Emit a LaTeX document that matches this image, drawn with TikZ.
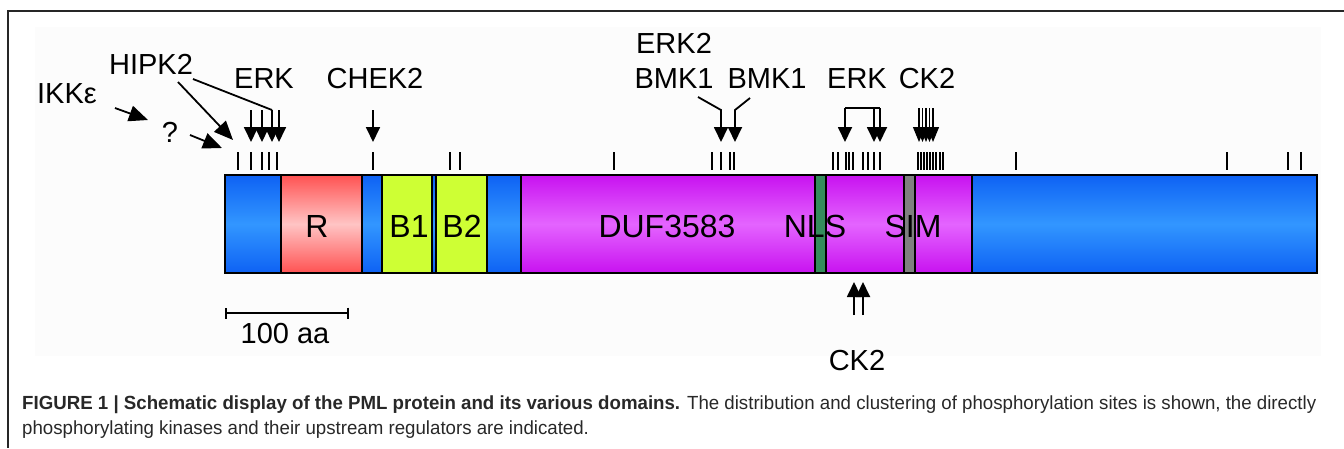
\documentclass[tikz,border=0pt]{standalone}
\usepackage{fontspec}
\setmainfont{Liberation Sans}
\usetikzlibrary{arrows.meta}
\definecolor{bluedark}{RGB}{14,98,244}
\definecolor{bluelight}{RGB}{50,150,255}
\definecolor{reddark}{RGB}{255,82,82}
\definecolor{redlight}{RGB}{255,196,196}
\definecolor{yellowseg}{RGB}{206,255,52}
\definecolor{magdark}{RGB}{200,18,240}
\definecolor{maglight}{RGB}{228,100,255}
\definecolor{greenseg}{RGB}{52,140,92}
\definecolor{grayseg}{RGB}{128,128,128}
\definecolor{capcol}{RGB}{40,40,40}
\definecolor{bgcol}{RGB}{252,252,252}
\tikzset{
  seg/.style={draw=none},
  blueseg/.style={seg, top color=bluedark, bottom color=bluedark, middle color=bluelight},
  redseg/.style={seg, top color=reddark, bottom color=reddark, middle color=redlight},
  yelseg/.style={seg, fill=yellowseg},
  magseg/.style={seg, top color=magdark, bottom color=magdark, middle color=maglight},
  grnseg/.style={seg, fill=greenseg},
  gryseg/.style={seg, fill=grayseg},
  kin/.style={line width=1.8pt, -{Triangle[width=14pt,length=15pt]}},
  kinbig/.style={line width=1.8pt, -{Triangle[width=16pt,length=19pt]}},
  kinthin/.style={line width=1.1pt, -{Triangle[width=12pt,length=15pt]}},
  plainline/.style={line width=1.8pt},
  site/.style={line width=1.8pt},
  sitethin/.style={line width=1.2pt},
  lbl/.style={font=\fontsize{29}{34}\selectfont, anchor=base, inner sep=0pt},
  dom/.style={font=\fontsize{32}{36}\selectfont, anchor=base, inner sep=0pt},
}
\newsavebox\capone
\newsavebox\captwo
\newlength\caponew
\begin{document}
\sbox\capone{\fontsize{19}{23}\selectfont\color{capcol}\textbf{FIGURE 1 | Schematic display of the PML protein and its various domains.} The distribution and clustering of phosphorylation sites is shown, the directly}
\sbox\captwo{\fontsize{19}{23}\selectfont\color{capcol}phosphorylating kinases and their upstream regulators are indicated.}
\setlength\caponew{\wd\capone}
\begin{tikzpicture}[x=1pt,y=-1pt]
\useasboundingbox (0,0) rectangle (1344,448);
\pgfmathsetmacro\capscale{1294/\caponew}
% frame and background
\fill[bgcol] (35,27) rectangle (1321,356);
\draw[line width=2pt, black!85] (1344,11) -- (8,11) -- (8,448);
% bar segments
\path[blueseg] (225,175) rectangle (281,273);
\path[redseg]  (281,175) rectangle (362,273);
\path[blueseg] (362,175) rectangle (382,273);
\path[yelseg]  (382,175) rectangle (432,273);
\path[blueseg] (432,175) rectangle (436,273);
\path[yelseg]  (436,175) rectangle (487,273);
\path[blueseg] (487,175) rectangle (521,273);
\path[magseg]  (521,175) rectangle (815,273);
\path[grnseg]  (815,175) rectangle (826,273);
\path[magseg]  (826,175) rectangle (904,273);
\path[gryseg]  (904,175) rectangle (915,273);
\path[magseg]  (915,175) rectangle (972,273);
\path[blueseg] (972,175) rectangle (1317,273);
\foreach \x in {281,362,382,432,436,487,521,815,826,904,915,972}
  \draw[line width=1.8pt] (\x,175) -- (\x,273);
\draw[line width=2pt] (225,175) rectangle (1317,273);
% domain labels
\node[dom] (dR) at (317,237) {R};
\node[dom] (dB1) at (409,237) {B1};
\node[dom] (dB2) at (462,237) {B2};
\node[dom] (dDUF) at (667,237) {DUF3583};
\node[dom] (dNLS) at (815,237) {NLS};
\node[dom] (dSIM) at (913,237) {SIM};
% phosphorylation sites
\foreach \x in {238,251,262,269,277,373,450,460,614,712,721,730,734,833,838,846,849,853,863,868,874,880,1016,1227,1288,1301}
  \draw[site] (\x,152) -- (\x,170);
\foreach \x in {918,921,924,927,930,933,936,940,943}
  \draw[sitethin] (\x,152) -- (\x,170);
% kinase labels
\node[lbl] (ikk) at (67,103) {IKKε};
\node[lbl] (hipk) at (151,74) {HIPK2};
\node[lbl] (q) at (170,142) {?};
\node[lbl] (erkL) at (264,88) {ERK};
\node[lbl] (chek) at (375,88) {CHEK2};
\node[lbl] (erk2) at (674,53) {ERK2};
\node[lbl] (bmkL) at (674,88) {BMK1};
\node[lbl] (bmkR) at (767,88) {BMK1};
\node[lbl] (erkR) at (857,88) {ERK};
\node[lbl] (ckT) at (927,88) {CK2};
\node[lbl] (ckB) at (857,370) {CK2};
\node[lbl] (aa) at (285,343) {100 aa};
% arrows: IKKe and ?
\coordinate (ikkA) at (115,108); \coordinate (ikkB) at (148,120);
\draw[kinbig] (ikkA) -- (ikkB);
\coordinate (qA) at (190,135); \coordinate (qB) at (222,148);
\draw[kinbig] (qA) -- (qB);
% ERK left
\foreach \x [count=\i] in {251,262,272,279} {
  \coordinate (erkA\i) at (\x,110);
  \coordinate (erkB\i) at (\x,142);
  \draw[kin] (erkA\i) -- (erkB\i);
}
% HIPK2
\coordinate (hA) at (178,82); \coordinate (hB) at (233,140);
\draw[kinbig] (hA) -- (hB);
\coordinate (hC) at (193,79);
\draw[plainline] (hC) -- (erkA3);
% CHEK2
\coordinate (chA) at (373,110); \coordinate (chB) at (373,142);
\draw[kin] (chA) -- (chB);
% ERK2 / BMK1
\coordinate (bA) at (698,97); \coordinate (bB) at (721,110); \coordinate (bC) at (721,142);
\draw[kin] (bA) -- (bB) -- (bC);
\coordinate (cA) at (750,98); \coordinate (cB) at (735,110); \coordinate (cC) at (735,142);
\draw[kin] (cA) -- (cB) -- (cC);
% ERK right bracket
\coordinate (rA) at (845,108); \coordinate (rB) at (880,108);
\draw[plainline] (rA) -- (rB);
\draw[kin] (rA) -- (845,142);
\draw[kin] (874,108) -- (874,142);
\draw[kin] (rB) -- (880,142);
% CK2 top
\foreach \x in {919,922.5,926,929.5,933}
  \draw[kinthin] (\x,108) -- (\x,142);
% CK2 bottom
\draw[kin] (854,315) -- (854,282);
\draw[kin] (863,315) -- (863,282);
% scale bar
\coordinate (sA) at (225,313); \coordinate (sB) at (349,313);
\draw[line width=1.8pt, {Bar[width=11pt]}-{Bar[width=11pt]}] (sA) -- (sB);
% caption
\node[anchor=base west, inner sep=0pt] (cap1) at (22,409) {\scalebox{\capscale}[1]{\usebox\capone}};
\node[anchor=base west, inner sep=0pt] (cap2) at (22,434) {\scalebox{\capscale}[1]{\usebox\captwo}};
\end{tikzpicture}
\end{document}
